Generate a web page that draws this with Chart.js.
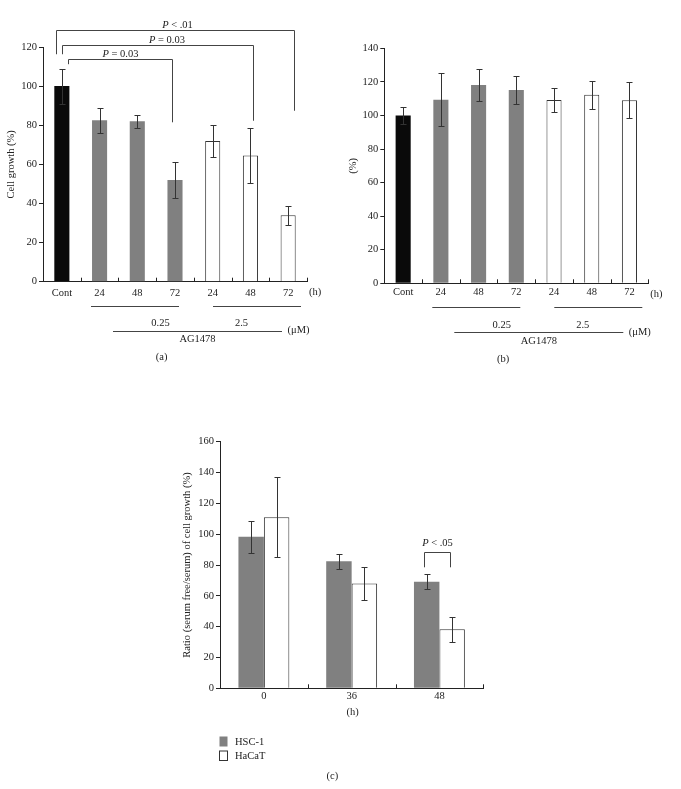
<!DOCTYPE html>
<html>
<head>
<meta charset="utf-8">
<script src="https://cdn.jsdelivr.net/npm/chart.js@4.4.0/dist/chart.umd.min.js"></script>
<style>
body { margin: 0; background: #fff; }
#wrap { position: relative; width: 681px; height: 789px; }
canvas { position: absolute; }
</style>
</head>
<body>
<div id="wrap">
  <canvas id="chartA" width="340" height="375" style="left:0;top:0"></canvas>
  <canvas id="chartB" width="341" height="375" style="left:340px;top:0"></canvas>
  <canvas id="chartC" width="330" height="369" style="left:170px;top:420px"></canvas>
</div>
<script>
const FONT = '"Liberation Serif", "DejaVu Serif", serif';
const INK = '#222';
const GRAY = '#808080';

// (a), (b): control, then AG1478 0.25 uM and 2.5 uM at 24/48/72 h
const hourLabels = ['Cont', '24', '48', '72', '24', '48', '72'];
const barGroup = ['cont', 'low', 'low', 'low', 'high', 'high', 'high'];
const doseLabels = ['0.25', '2.5'];
const growthA = [100, 82.5, 82, 52, 72, 64.5, 34];
const growthAErr = [9, 6.3, 3.3, 9, 8, 14, 4.8];
const growthB = [100, 109.3, 118.2, 115.2, 109.2, 112.4, 109];
const growthBErr = [5, 15.8, 9.7, 8.5, 7, 8.3, 10.8];

// (c): ratio serum free / serum
const hoursC = ['0', '36', '48'];
const hsc1 = [98.3, 82.4, 69.2];
const hsc1Err = [10.5, 5, 5];
const hacat = [111, 68, 38.3];
const hacatErr = [26, 11, 8];

// brackets on (a): bar pair, level of the top line and of each end (in %)
const bracketsA = [
    { from: 0, to: 3, text: ' = 0.03', level: 113.7, endFrom: 111.2, endTo: 81.5, dxFrom: 6, dxTo: -3, textDx: 0 },
    { from: 0, to: 5, text: ' = 0.03', level: 120.9, endFrom: 116.3, endTo: 82.3, dxFrom: 0, dxTo: 3, textDx: 9 },
    { from: 0, to: 6, text: ' < .01', level: 128.5, endFrom: 116.3, endTo: 87.4, dxFrom: -6, dxTo: 6, textDx: 2 }
];

function font(size, style) {
    return (style || '') + ' ' + size + 'px ' + FONT;
}

function pText(ctx, rest, cx, y) {
    ctx.font = font(10.5, 'italic');
    const wP = ctx.measureText('P').width;
    ctx.font = font(10.5);
    const wR = ctx.measureText(rest).width;
    const x = cx - (wP + wR) / 2;
    ctx.textAlign = 'left';
    ctx.font = font(10.5, 'italic');
    ctx.fillText('P', x, y);
    ctx.font = font(10.5);
    ctx.fillText(rest, x + wP, y);
}

function path(ctx, pts) {
    ctx.beginPath();
    pts.forEach(([x, y], i) => i ? ctx.lineTo(x, y) : ctx.moveTo(x, y));
    ctx.stroke();
}

const snap = v => Math.round(v) + 0.5;

// error bars taken from dataset.errors
const errorBars = {
    id: 'errorBars',
    afterDatasetsDraw(chart) {
        const ctx = chart.ctx, y = chart.scales.y;
        ctx.save();
        ctx.strokeStyle = '#333';
        ctx.lineWidth = 1;
        chart.data.datasets.forEach((ds, di) => {
            chart.getDatasetMeta(di).data.forEach((bar, i) => {
                const v = ds.data[i], e = ds.errors[i];
                const x = snap(bar.x);
                const t = snap(y.getPixelForValue(v + e)), b = snap(y.getPixelForValue(v - e));
                path(ctx, [[x, t], [x, b]]);
                path(ctx, [[x - 3, t], [x + 3, t]]);
                path(ctx, [[x - 3, b], [x + 3, b]]);
            });
        });
        ctx.restore();
    }
};

// small inward ticks at category boundaries
const catTicks = {
    id: 'catTicks',
    afterDraw(chart) {
        const x = chart.scales.x, a = chart.chartArea, ctx = chart.ctx;
        const n = chart.data.labels.length;
        ctx.save();
        ctx.strokeStyle = INK;
        ctx.lineWidth = 1;
        for (let i = 1; i <= n; i++) {
            const px = i < n ? (x.getPixelForValue(i - 1) + x.getPixelForValue(i)) / 2 : a.right;
            path(ctx, [[snap(px), a.bottom], [snap(px), a.bottom - 4]]);
        }
        ctx.restore();
    }
};

function doseNotes(letter) {
    return {
        id: 'doseNotes',
        afterDraw(chart) {
            const ctx = chart.ctx, a = chart.chartArea, L = a.left, B = a.bottom;
            ctx.save();
            ctx.fillStyle = INK;
            ctx.strokeStyle = '#444';
            ctx.lineWidth = 1;
            ctx.font = font(10.5);
            ctx.textBaseline = 'middle';
            ctx.textAlign = 'left';
            ctx.fillText('(h)', a.right + 2, B + 11);
            path(ctx, [[L + 48, snap(B + 24)], [L + 136, snap(B + 24)]]);
            path(ctx, [[L + 170, snap(B + 24)], [L + 258, snap(B + 24)]]);
            path(ctx, [[L + 70, snap(B + 49)], [L + 239, snap(B + 49)]]);
            ctx.textAlign = 'center';
            ctx.fillText(doseLabels[0], L + 117.5, B + 42);
            ctx.fillText(doseLabels[1], L + 198.5, B + 42);
            ctx.fillText('AG1478', L + 154.5, B + 57.5);
            ctx.fillText('(\u03bcM)', L + 255.5, B + 49);
            ctx.fillText(letter, L + 118.7, B + 76);
            ctx.restore();
        }
    };
}

const bracketsPlugin = {
    id: 'bracketsA',
    afterDraw(chart) {
        const ctx = chart.ctx, y = chart.scales.y;
        const bars = chart.getDatasetMeta(0).data;
        ctx.save();
        ctx.strokeStyle = '#444';
        ctx.fillStyle = INK;
        ctx.lineWidth = 1;
        ctx.textBaseline = 'alphabetic';
        bracketsA.forEach(b => {
            const x1 = snap(bars[b.from].x + b.dxFrom), x2 = snap(bars[b.to].x + b.dxTo);
            const top = snap(y.getPixelForValue(b.level));
            path(ctx, [[x1, y.getPixelForValue(b.endFrom)], [x1, top], [x2, top], [x2, y.getPixelForValue(b.endTo)]]);
            pText(ctx, b.text, (x1 + x2) / 2 + b.textDx, top - 3);
        });
        ctx.restore();
    }
};

const fillOf = { cont: '#0a0a0a', low: GRAY, high: '#ffffff' };

function panel(id, values, errs, yMax, yTitle, box, letter, extra) {
    const tickFont = { family: FONT, size: 10.5 };
    return new Chart(document.getElementById(id), {
        type: 'bar',
        data: {
            labels: hourLabels,
            datasets: [{
                data: values,
                errors: errs,
                backgroundColor: barGroup.map(g => fillOf[g]),
                borderColor: '#333',
                borderWidth: barGroup.map(g => g === 'high' ? 1 : 0),
                barPercentage: 0.4,
                categoryPercentage: 1
            }]
        },
        options: {
            responsive: false,
            animation: false,
            layout: { padding: { left: 0, right: box.right, top: box.top, bottom: 0 } },
            plugins: { legend: { display: false }, tooltip: { enabled: false } },
            scales: {
                x: {
                    grid: { display: false, drawTicks: false },
                    border: { display: true, color: INK },
                    ticks: { color: INK, font: tickFont, padding: box.labelPad },
                    afterFit: s => { s.height = box.xHeight; }
                },
                y: {
                    min: 0, max: yMax,
                    ticks: { stepSize: 20, color: INK, font: tickFont, padding: 2 },
                    grid: { drawOnChartArea: false, tickLength: 4, color: INK },
                    border: { display: true, color: INK },
                    title: { display: true, text: yTitle, color: INK, font: tickFont, padding: { top: box.titlePad, bottom: 0 } },
                    afterFit: s => { s.width = box.yWidth; }
                }
            }
        },
        plugins: [errorBars, catTicks, doseNotes(letter)].concat(extra)
    });
}

panel('chartA', growthA, growthAErr, 120, 'Cell growth (%)',
    { right: 33, top: 47, xHeight: 93.3, yWidth: 43, labelPad: 5, titlePad: 5 }, '(a)', [bracketsPlugin]);

panel('chartB', growthB, growthBErr, 140, '(%)',
    { right: 32.7, top: 48.3, xHeight: 91.7, yWidth: 44.3, labelPad: 3, titlePad: 6.5 }, '(b)', []);

// (c)
const notesC = {
    id: 'notesC',
    afterDraw(chart) {
        const ctx = chart.ctx, a = chart.chartArea, y = chart.scales.y;
        const b1 = chart.getDatasetMeta(0).data[2], b2 = chart.getDatasetMeta(1).data[2];
        ctx.save();
        ctx.strokeStyle = '#444';
        ctx.fillStyle = INK;
        ctx.lineWidth = 1;
        const x1 = snap(b1.x - 2.5), x2 = snap(b2.x - 2.5), top = snap(y.getPixelForValue(88.3));
        const end = y.getPixelForValue(78.5);
        path(ctx, [[x1, end], [x1, top], [x2, top], [x2, end]]);
        ctx.textBaseline = 'alphabetic';
        pText(ctx, ' < .05', (x1 + x2) / 2, top - 7);
        ctx.textBaseline = 'middle';
        ctx.textAlign = 'center';
        ctx.font = font(10.5);
        ctx.fillText('(h)', (a.left + a.right) / 2 + 1, a.bottom + 24);
        ctx.fillText('(c)', 162.3, a.bottom + 87.5);
        // legend
        chart.data.datasets.forEach((ds, i) => {
            const top = 316.5 + i * 14;
            ctx.fillStyle = ds.backgroundColor;
            ctx.fillRect(49.5, top, 8, 10);
            if (ds.borderWidth) {
                ctx.strokeStyle = '#333';
                ctx.strokeRect(49.5, top + 0.5, 8, 9.5);
            }
            ctx.fillStyle = INK;
            ctx.textAlign = 'left';
            ctx.fillText(ds.label, 65, top + 5.5);
        });
        ctx.restore();
    }
};

new Chart(document.getElementById('chartC'), {
    type: 'bar',
    data: {
        labels: hoursC,
        datasets: [
            { label: 'HSC-1', data: hsc1, errors: hsc1Err, backgroundColor: GRAY, borderWidth: 0 },
            { label: 'HaCaT', data: hacat, errors: hacatErr, backgroundColor: '#ffffff', borderColor: '#333', borderWidth: 1 }
        ]
    },
    options: {
        responsive: false,
        animation: false,
        datasets: { bar: { categoryPercentage: 0.58, barPercentage: 1 } },
        layout: { padding: { left: 0, right: 16.7, top: 21.7, bottom: 0 } },
        plugins: { legend: { display: false }, tooltip: { enabled: false } },
        scales: {
            x: {
                grid: { display: false, drawTicks: false },
                border: { display: true, color: INK },
                ticks: { color: INK, font: { family: FONT, size: 10.5 }, padding: 2 },
                afterFit: s => { s.height = 100.7; }
            },
            y: {
                min: 0, max: 160,
                ticks: { stepSize: 20, color: INK, font: { family: FONT, size: 10.5 }, padding: 2 },
                grid: { drawOnChartArea: false, tickLength: 4, color: INK },
                border: { display: true, color: INK },
                title: {
                    display: true, text: 'Ratio (serum free/serum) of cell growth (%)', color: INK,
                    font: { family: FONT, size: 10.5 }, padding: { top: 11, bottom: 0 }
                },
                afterFit: s => { s.width = 50; }
            }
        }
    },
    plugins: [errorBars, catTicks, notesC]
});
</script>
</body>
</html>
